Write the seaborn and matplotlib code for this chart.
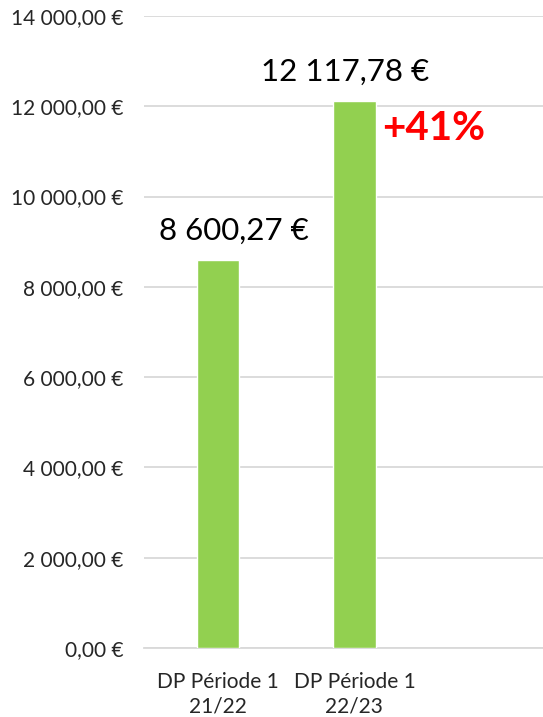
import matplotlib
matplotlib.use("Agg")
import matplotlib.pyplot as plt
import seaborn as sns
import pandas as pd

# chart data
categories = ["DP Période 1\n21/22", "DP Période 1\n22/23"]
values = [8600.27, 12117.78]
value_labels = ["8 600,27 €", "12 117,78 €"]
growth_label = "+41%"
yticks = [0, 2000, 4000, 6000, 8000, 10000, 12000, 14000]
ytick_labels = ["0,00 €", "2 000,00 €", "4 000,00 €", "6 000,00 €",
                "8 000,00 €", "10 000,00 €", "12 000,00 €", "14 000,00 €"]

df = pd.DataFrame({"periode": categories, "montant": values})

sns.set_style("white")
plt.rcParams["font.family"] = ["Lato", "DejaVu Sans"]

fig = plt.figure(figsize=(5.43, 7.17), dpi=100)
ax = fig.add_axes([144 / 543, 69 / 717, 1 - 144 / 543, (648 - 16) / 717])

sns.barplot(data=df, x="periode", y="montant", color="#92D050",
            width=0.31, saturation=1, ax=ax, zorder=3)

ax.set_xlim(-0.54, 2.38)
ax.set_ylim(0, 14000)
ax.set_yticks(yticks)
ax.set_yticklabels(ytick_labels, fontsize=15)
ax.tick_params(axis="x", labelsize=15, length=0, pad=17)
ax.tick_params(axis="y", length=0, pad=15)
for t in ax.get_xticklabels():
    t.set_linespacing(1.3)
ax.set_xlabel("")
ax.set_ylabel("")
ax.grid(axis="y", color="#D9D9D9", linewidth=1.3, zorder=0)
for s in ["top", "right", "left"]:
    ax.spines[s].set_visible(False)
ax.spines["bottom"].set_color("#D9D9D9")
ax.spines["bottom"].set_linewidth(1.3)
ax.spines["bottom"].set_zorder(1)

# data labels (slightly shifted like the original)
shifts = [0.12, -0.07]
for i, (v, lab) in enumerate(zip(values, value_labels)):
    ax.annotate(lab, (i + shifts[i], v), xytext=(0, 11), textcoords="offset points",
                ha="center", va="bottom", fontsize=22.5, color="black")

ax.annotate(growth_label, (1, values[1]), xytext=(57, -20), textcoords="offset points",
            ha="center", va="center", fontsize=29, fontweight="bold", color="#FF0000")

fig.savefig("out.png", dpi=100)
